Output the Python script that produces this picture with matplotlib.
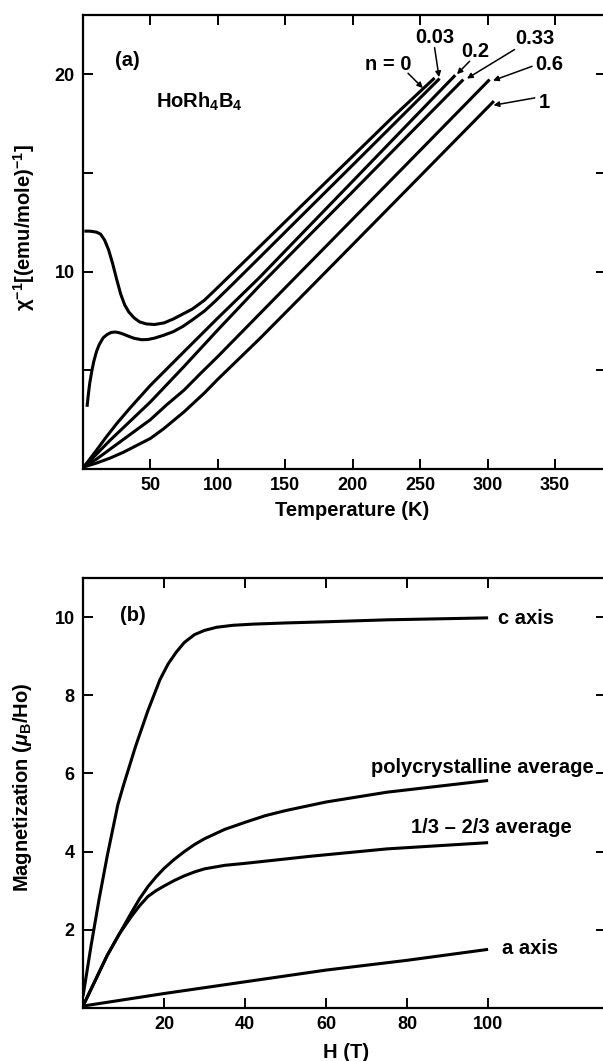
import matplotlib
matplotlib.use("Agg")
import matplotlib.pyplot as plt

plt.rcParams['font.family'] = ['Liberation Sans', 'DejaVu Sans']
plt.rcParams['font.weight'] = 'bold'
plt.rcParams['mathtext.fontset'] = 'custom'
plt.rcParams['mathtext.rm'] = 'Liberation Sans:bold'
plt.rcParams['mathtext.bf'] = 'Liberation Sans:bold'
plt.rcParams['mathtext.it'] = 'Liberation Sans:bold:italic'

# ---------------- Panel (a): inverse susceptibility vs temperature ----------------
T_n0 = [1, 5, 10, 13, 16, 19, 22, 25, 28, 31, 34, 38, 42, 47, 53, 60, 67, 74, 81, 90, 98,
        115, 130, 160, 200, 230, 260.7]
chi_n0 = [12.05, 12.05, 12.0, 11.9, 11.6, 11.1, 10.4, 9.6, 8.85, 8.3, 7.95, 7.65, 7.45, 7.35,
          7.32, 7.4, 7.6, 7.85, 8.1, 8.55, 9.07, 10.2, 11.2, 13.2, 15.85, 17.85, 19.81]

T_n003 = [3, 4, 5, 6.5, 8, 10, 12, 15, 18, 21, 24, 27, 30, 34, 38, 43.5, 48, 53, 60, 67, 74,
          81, 90, 98, 110, 131, 160, 200, 230, 264.4]
chi_n003 = [3.15, 3.8, 4.35, 4.95, 5.45, 5.95, 6.3, 6.65, 6.82, 6.92, 6.94, 6.9, 6.83, 6.72,
            6.62, 6.55, 6.56, 6.63, 6.78, 6.96, 7.22, 7.55, 8.0, 8.5, 9.3, 10.72, 12.69, 15.4,
            17.44, 19.78]

T_n02 = [0.5, 5, 10, 17, 25, 35, 50, 75, 100, 131, 160, 200, 240, 276]
chi_n02 = [0.1, 0.5, 0.95, 1.6, 2.3, 3.1, 4.24, 5.95, 7.65, 9.71, 11.76, 14.58, 17.41, 19.95]

T_n033 = [0.5, 10, 20, 30, 40, 50, 75, 100, 131, 160, 200, 240, 282]
chi_n033 = [0.1, 0.75, 1.45, 2.1, 2.75, 3.4, 5.2, 7.05, 9.29, 11.3, 14.05, 16.83, 19.73]

T_n06 = [0.5, 10, 20, 30, 40, 50, 62, 75, 87, 100, 131, 160, 200, 250, 301.5]
chi_n06 = [0.1, 0.5, 1.0, 1.5, 2.0, 2.5, 3.25, 4.0, 4.83, 5.7, 7.86, 9.88, 12.66, 16.14, 19.73]

T_n1 = [0.5, 10, 20, 30, 40, 50, 60, 75, 90, 100, 131, 160, 200, 250, 304.7]
chi_n1 = [0.1, 0.3, 0.55, 0.85, 1.2, 1.55, 2.05, 2.9, 3.85, 4.55, 6.6, 8.6, 11.37, 14.84, 18.64]

series_a = [(T_n0, chi_n0), (T_n003, chi_n003), (T_n02, chi_n02),
            (T_n033, chi_n033), (T_n06, chi_n06), (T_n1, chi_n1)]

labels_a = ['n = 0', '0.03', '0.2', '0.33', '0.6', '1']
label_pos_a = [(226, 20.5), (260.7, 21.85), (291, 21.15), (335, 21.8), (346, 20.5), (342, 18.55)]
arrow_tail_a = [(241, 20.05), (260.7, 21.35), (286.7, 20.66), (320, 21.25), (333, 20.4), (335, 18.8)]
arrow_tip_a = [(252, 19.3), (264, 19.85), (277.3, 20.0), (284.7, 19.78), (304, 19.68), (304.4, 18.43)]

xticks_a = [50, 100, 150, 200, 250, 300, 350]
yticks_a = [5, 10, 15, 20]
yticklabels_a = ['', '10', '', '20']

# ---------------- Panel (b): magnetization vs field ----------------
H_c = [0, 1, 2, 3, 4, 5, 6, 7, 8.6, 10, 11.5, 13, 14.5, 16, 17.5, 19, 21, 23, 25, 27.5, 30,
       33, 37, 42, 50, 60, 75, 100]
M_c = [0.3, 0.95, 1.6, 2.2, 2.8, 3.35, 3.9, 4.4, 5.2, 5.7, 6.2, 6.7, 7.15, 7.6, 8.0, 8.4, 8.8,
       9.1, 9.35, 9.55, 9.66, 9.74, 9.79, 9.82, 9.85, 9.88, 9.93, 9.98]

H_poly = [0, 3, 6, 9, 12, 14, 16, 18, 20, 22.5, 25, 27.5, 30, 35, 40, 45, 50, 60, 75, 90, 100]
M_poly = [0.05, 0.7, 1.35, 1.9, 2.45, 2.8, 3.1, 3.35, 3.57, 3.8, 4.0, 4.18, 4.33, 4.57, 4.75,
          4.92, 5.05, 5.27, 5.52, 5.7, 5.82]

H_avg = [0, 3, 6, 9, 12, 14, 16, 18, 20, 22.5, 25, 27.5, 30, 35, 40, 56, 75, 100]
M_avg = [0.05, 0.7, 1.35, 1.9, 2.35, 2.62, 2.85, 3.0, 3.12, 3.26, 3.38, 3.48, 3.56, 3.65, 3.7,
         3.88, 4.07, 4.23]

H_a = [0, 20, 40, 60, 80, 100]
M_a = [0.05, 0.37, 0.67, 0.97, 1.22, 1.5]

series_b = [(H_c, M_c), (H_poly, M_poly), (H_avg, M_avg), (H_a, M_a)]
labels_b = ['c axis', 'polycrystalline average', '1/3 \u2013 2/3 average', 'a axis']
label_pos_b = [(102.5, 9.97), (71, 6.15), (81, 4.63), (103.5, 1.53)]

xticks_b = [20, 40, 60, 80, 100]
yticks_b = [2, 4, 6, 8, 10]

# ---------------- Figure ----------------
W, Hpx = 603, 1061
fig = plt.figure(figsize=(W / 100, Hpx / 100), dpi=100)

def px_axes(l, t, r, b):
    return fig.add_axes([l / W, 1 - b / Hpx, (r - l) / W, (b - t) / Hpx])

LW = 2.2
FS = 13
TS = 14.5

def style(ax):
    for s in ax.spines.values():
        s.set_linewidth(1.6)
    ax.tick_params(direction='in', length=7, width=1.4, top=True, right=True,
                   labelsize=FS, pad=6)
    for lab in ax.get_xticklabels() + ax.get_yticklabels():
        lab.set_fontweight('bold')

# Panel (a)
ax1 = px_axes(83, 15, 606, 469)
for T, c in series_a:
    ax1.plot(T, c, color='black', lw=LW, solid_capstyle='butt', solid_joinstyle='round')
ax1.set_xlim(0, 387.8)
ax1.set_ylim(0, 23)
ax1.set_xticks(xticks_a)
ax1.set_yticks(yticks_a)
ax1.set_yticklabels(yticklabels_a)
style(ax1)
ax1.text(33, 20.7, '(a)', ha='center', va='center', fontsize=TS, fontweight='bold')
ax1.text(54, 18.6, r'HoRh$_\mathbf{4}$B$_\mathbf{4}$', ha='left', va='center', fontsize=TS,
         fontweight='bold')
for lab, lp, tail, tip in zip(labels_a, label_pos_a, arrow_tail_a, arrow_tip_a):
    ax1.text(lp[0], lp[1], lab, ha='center', va='center', fontsize=TS, fontweight='bold')
    ax1.annotate('', xy=tip, xytext=tail,
                 arrowprops=dict(arrowstyle='-|>', color='black', lw=1.1,
                                 mutation_scale=8, shrinkA=0, shrinkB=0))
fig.text(352 / W, 1 - 511 / Hpx, 'Temperature (K)', ha='center', va='center',
         fontsize=TS, fontweight='bold')
fig.text(24 / W, 1 - 228 / Hpx, r'χ$^\mathbf{-1}$[(emu/mole)$^\mathbf{-1}$]', ha='center',
         va='center', rotation=90, fontsize=TS, fontweight='bold')

# Panel (b)
ax2 = px_axes(83, 578, 606, 1008)
for Hh, M in series_b:
    ax2.plot(Hh, M, color='black', lw=LW, solid_capstyle='butt', solid_joinstyle='round')
ax2.set_xlim(0, 129.1)
ax2.set_ylim(0, 11)
ax2.set_xticks(xticks_b)
ax2.set_yticks(yticks_b)
style(ax2)
ax2.text(12.2, 10.05, '(b)', ha='center', va='center', fontsize=TS, fontweight='bold')
for lab, lp in zip(labels_b, label_pos_b):
    ax2.text(lp[0], lp[1], lab, ha='left', va='center', fontsize=TS, fontweight='bold')
fig.text(346 / W, 1 - 1052 / Hpx, 'H (T)', ha='center', va='center',
         fontsize=TS, fontweight='bold')
fig.text(23 / W, 1 - 787 / Hpx, r'Magnetization ($\mu_\mathbf{B}$/Ho)', ha='center',
         va='center', rotation=90, fontsize=TS, fontweight='bold')

fig.savefig('out.png', dpi=100)
